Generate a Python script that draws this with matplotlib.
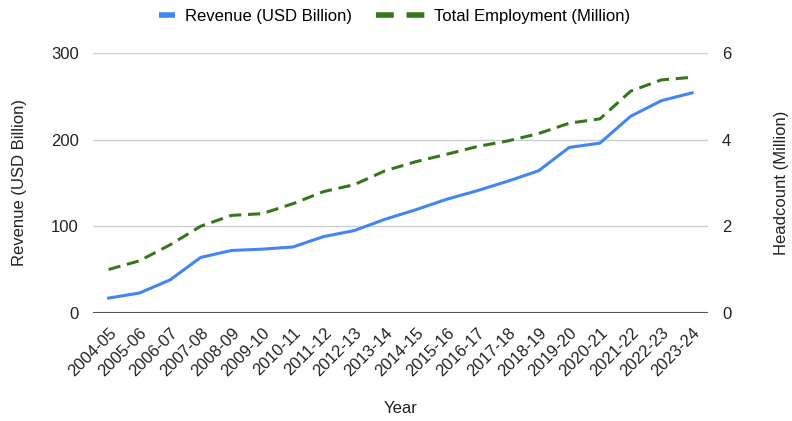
import matplotlib.pyplot as plt
from matplotlib.lines import Line2D

plt.rcParams['font.family'] = ['Liberation Sans', 'DejaVu Sans']

years = ["2004-05", "2005-06", "2006-07", "2007-08", "2008-09", "2009-10",
         "2010-11", "2011-12", "2012-13", "2013-14", "2014-15", "2015-16",
         "2016-17", "2017-18", "2018-19", "2019-20", "2020-21", "2021-22",
         "2022-23", "2023-24"]
revenue = [17, 22.8, 38, 64, 72, 73.5, 76, 88, 95, 108, 119, 131,
           141, 152, 164, 191, 196, 227, 245, 254]
employment = [1.0, 1.2, 1.57, 2.0, 2.25, 2.29, 2.52, 2.8, 2.96, 3.28, 3.49,
              3.66, 3.84, 3.97, 4.14, 4.38, 4.48, 5.12, 5.38, 5.44]

fs = 12
txt = "#222222"
blue = "#4285F4"
green = "#38761D"

fig = plt.figure(figsize=(7.92, 4.21), dpi=100)
ax1 = fig.add_axes([0.117, 0.257, 0.777, 0.617])
ax2 = ax1.twinx()

x = list(range(len(years)))
ax1.plot(x, revenue, color=blue, lw=2.2)
ax2.plot(x, employment, color=green, lw=2.2, ls=(0, (4, 2.2)))

ax1.set_xlim(-0.52, 19.52)
ax1.set_ylim(0, 300)
ax2.set_ylim(0, 6)
ax1.set_yticks([0, 100, 200, 300])
ax2.set_yticks([0, 2, 4, 6])
ax1.set_xticks(x)
ax1.set_xticklabels(years, rotation=45, ha="right", rotation_mode="anchor")

ax1.grid(axis="y", color="#cccccc", lw=1)
ax1.set_axisbelow(True)
for ax in (ax1, ax2):
    for s in ("top", "left", "right", "bottom"):
        ax.spines[s].set_visible(False)
    ax.tick_params(length=0, labelsize=fs, colors=txt, pad=10)
ax1.axhline(0, color="#555555", lw=1.5, zorder=3)
ax1.tick_params(axis="x", pad=9)

ax1.set_xlabel("Year", fontsize=fs, color=txt)
ax1.set_ylabel("Revenue (USD Billion)", fontsize=fs, color=txt)
ax2.set_ylabel("Headcount (Million)", fontsize=fs, color=txt)
ax1.xaxis.set_label_coords(0.5, -0.37)
ax1.yaxis.set_label_coords(-0.119, 0.5)
ax2.yaxis.set_label_coords(1.12, 0.5)
ax1.xaxis.label.set_va("center")
ax1.yaxis.label.set_va("center")
ax2.yaxis.label.set_va("center")

# legend: two pieces, short solid block and a two-dash handle
h1 = Line2D([], [], color=blue, lw=4, solid_capstyle="butt")
h2 = Line2D([], [], color=green, lw=4, ls=(0, (3.2, 2.3)), dash_capstyle="butt")
leg_y = 1 - 16 / 421
fig.legend([h1], ["Revenue (USD Billion)"], loc="center left",
           bbox_to_anchor=(159 / 792, leg_y), frameon=False, fontsize=fs,
           handlelength=0.96, handletextpad=0.6, borderpad=0, borderaxespad=0)
fig.legend([h2], ["Total Employment (Million)"], loc="center left",
           bbox_to_anchor=(376 / 792, leg_y), frameon=False, fontsize=fs,
           handlelength=2.95, handletextpad=0.55, borderpad=0, borderaxespad=0)

fig.savefig("out.png", dpi=100)
